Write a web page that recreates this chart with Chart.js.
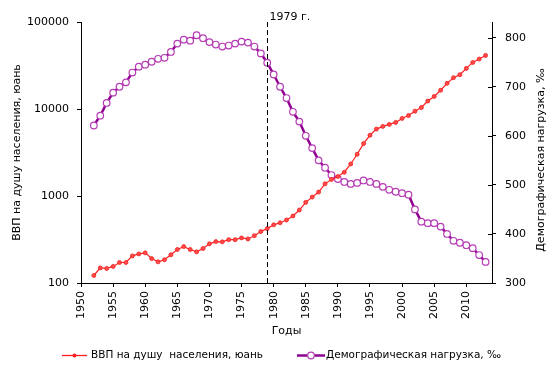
<!DOCTYPE html>
<html>
<head>
<meta charset="utf-8">
<script src="https://cdn.jsdelivr.net/npm/chart.js@4"></script>
<style>
  body { margin: 0; background: #fff; }
  #wrap { width: 554px; height: 376px; }
</style>
</head>
<body>
<div id="wrap"><canvas id="myChart" width="554" height="376"></canvas></div>
<script>
// years of the series
const years = [];
for (let y = 1952; y <= 2013; y++) years.push(y);

// GDP per capita, yuan (left log axis)
const gdp = [122, 149, 147, 155, 172, 172, 205, 216, 222, 191,
  175, 185, 211, 243, 262, 243, 228, 249, 282, 299,
  297, 315, 315, 330, 321, 350, 390, 422, 466, 493,
  530, 589, 690, 845, 971, 1109, 1380, 1550, 1675, 1876,
  2335, 3015, 4000, 5000, 5875, 6310, 6650, 7015, 7790, 8400,
  9440, 10400, 12340, 13950, 16440, 19720, 22900, 24800, 29300, 34300,
  37500, 41300];

// dependency ratio, per mille (right axis)
const load = [621, 641, 667, 688, 700, 709, 729, 741, 745, 751,
  757, 759, 771, 788, 796, 794, 805, 799, 791, 786,
  782, 784, 788, 792, 790, 782, 768, 749, 725, 700,
  677, 649, 629, 600, 575, 550, 535, 520, 512, 506,
  502, 504, 509, 506, 502, 496, 490, 486, 483, 480,
  450, 425, 422, 422, 415, 400, 386, 382, 377, 371,
  357, 343];

const leftTicks = [100, 1000, 10000, 100000];
const rightTicks = [300, 400, 500, 600, 700, 800];
const markYear = 1979;
const markLabel = "1979 г.";

const gdpName = "ВВП на душу  населения, юань";
const loadName = "Демографическая нагрузка, ‰";
const xTitle = "Годы";
const yTitle = "ВВП на душу населения, юань";
const y2Title = "Демографическая нагрузка, ‰";

const FONT = "'DejaVu Sans', Verdana, sans-serif";
const RED = "#ff1f1f";
const PURPLE = "#900090";
const PURPLE_MK = "#b53cb5";

// draws the dashed line, titles, legend and inner ticks on the right axis
const extras = {
  id: "extras",
  afterDraw(chart) {
    const ctx = chart.ctx;
    const area = chart.chartArea;
    const xs = chart.scales.x;
    const y2 = chart.scales.y2;
    ctx.save();

    // 1979 line
    const mx = Math.round(xs.getPixelForValue(markYear)) + 0.5;
    ctx.strokeStyle = "#000";
    ctx.lineWidth = 1;
    ctx.setLineDash([5, 3]);
    ctx.beginPath();
    ctx.moveTo(mx, area.top);
    ctx.lineTo(mx, area.bottom);
    ctx.stroke();
    ctx.setLineDash([]);
    ctx.fillStyle = "#000";
    ctx.font = "11px " + FONT;
    ctx.textAlign = "left";
    ctx.textBaseline = "alphabetic";
    ctx.fillText(markLabel, mx + 2, area.top - 2);

    // inner ticks of right axis
    ctx.beginPath();
    rightTicks.forEach(function (v) {
      const py = Math.round(y2.getPixelForValue(v)) + 0.5;
      ctx.moveTo(area.right - 4, py);
      ctx.lineTo(area.right, py);
    });
    ctx.stroke();

    // axis titles
    ctx.textAlign = "center";
    ctx.textBaseline = "middle";
    ctx.fillText(xTitle, (area.left + area.right) / 2, 331);
    ctx.save();
    ctx.translate(17, (area.top + area.bottom) / 2);
    ctx.rotate(-Math.PI / 2);
    ctx.fillText(yTitle, 0, 0);
    ctx.restore();
    ctx.save();
    ctx.translate(541, 160);
    ctx.rotate(-Math.PI / 2);
    ctx.fillText(y2Title, 0, 0);
    ctx.restore();

    // legend
    const ly = 355.5;
    ctx.font = "10.5px " + FONT;
    ctx.textAlign = "left";
    ctx.strokeStyle = RED;
    ctx.lineWidth = 1.3;
    ctx.beginPath();
    ctx.moveTo(62, ly);
    ctx.lineTo(87, ly);
    ctx.stroke();
    ctx.fillStyle = RED;
    ctx.beginPath();
    ctx.arc(74.5, ly, 2, 0, Math.PI * 2);
    ctx.fill();
    ctx.fillStyle = "#000";
    ctx.fillText(gdpName, 91, ly);

    ctx.strokeStyle = PURPLE;
    ctx.lineWidth = 2.5;
    ctx.beginPath();
    ctx.moveTo(297, ly);
    ctx.lineTo(325, ly);
    ctx.stroke();
    ctx.fillStyle = "#fff";
    ctx.strokeStyle = PURPLE_MK;
    ctx.lineWidth = 1.2;
    ctx.beginPath();
    ctx.arc(311, ly, 3.3, 0, Math.PI * 2);
    ctx.fill();
    ctx.stroke();
    ctx.fillStyle = "#000";
    ctx.fillText(loadName, 326, ly);

    ctx.restore();
  }
};

const ctx = document.getElementById("myChart").getContext("2d");
const chart = new Chart(ctx, {
  type: "line",
  data: {
    datasets: [
      {
        label: gdpName,
        data: years.map((y, i) => ({ x: y, y: gdp[i] })),
        yAxisID: "y",
        borderColor: RED,
        borderWidth: 1.2,
        backgroundColor: "#ff4a4a",
        pointBorderColor: "#f02020",
        pointBorderWidth: 0.8,
        pointRadius: 2,
        tension: 0
      },
      {
        label: loadName,
        data: years.map((y, i) => ({ x: y, y: load[i] })),
        yAxisID: "y2",
        borderColor: PURPLE,
        borderWidth: 2.5,
        pointBackgroundColor: "#fff",
        pointBorderColor: PURPLE_MK,
        pointBorderWidth: 1.2,
        pointRadius: 3.3,
        tension: 0
      }
    ]
  },
  options: {
    responsive: false,
    animation: false,
    events: [],
    layout: { padding: { top: 22, left: 0, right: 0, bottom: 0 } },
    plugins: { legend: { display: false }, tooltip: { enabled: false } },
    scales: {
      x: {
        type: "linear",
        min: 1950,
        max: 2014,
        afterFit(scale) { scale.height = 93; },
        border: { display: true, color: "#000", width: 1 },
        grid: { drawOnChartArea: false, drawTicks: true, tickLength: 4, color: "#000" },
        ticks: {
          stepSize: 5,
          includeBounds: false,
          minRotation: 90,
          maxRotation: 90,
          padding: 4,
          color: "#000",
          font: { family: FONT, size: 11 },
          callback: (v) => String(v)
        }
      },
      y: {
        type: "logarithmic",
        position: "left",
        min: 100,
        max: 100000,
        afterFit(scale) { scale.width = 81; },
        afterBuildTicks(scale) { scale.ticks = leftTicks.map((v) => ({ value: v })); },
        border: { display: true, color: "#000", width: 1 },
        grid: { drawOnChartArea: false, drawTicks: true, tickLength: 4, color: "#000" },
        ticks: {
          padding: 8,
          color: "#000",
          font: { family: FONT, size: 11 },
          callback: (v) => String(v)
        }
      },
      y2: {
        type: "linear",
        position: "right",
        min: 300,
        max: 832,
        afterFit(scale) { scale.width = 62; },
        afterBuildTicks(scale) { scale.ticks = rightTicks.map((v) => ({ value: v })); },
        border: { display: true, color: "#000", width: 1 },
        grid: { drawOnChartArea: false, drawTicks: true, tickLength: 4, color: "#000" },
        ticks: {
          padding: 9,
          color: "#000",
          font: { family: FONT, size: 11 },
          callback: (v) => String(v)
        }
      }
    }
  },
  plugins: [extras]
});
</script>
</body>
</html>
